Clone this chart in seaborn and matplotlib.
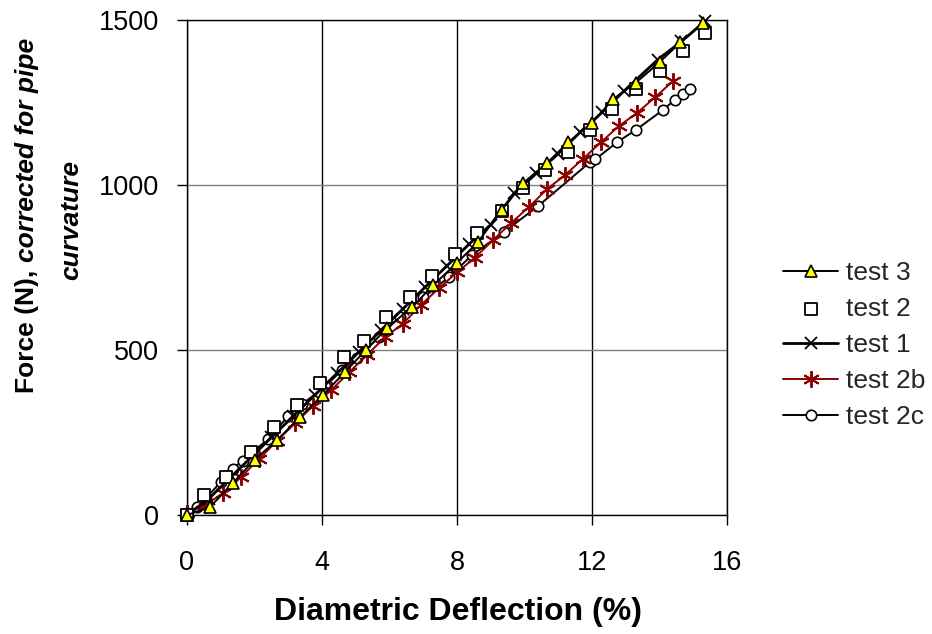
import matplotlib
matplotlib.use("Agg")
import matplotlib.pyplot as plt
import seaborn as sns

# ---------------- data ----------------
x_test3 = [0, 0.68, 1.36, 2.0, 2.67, 3.35, 4.03, 4.67, 5.3, 5.93, 6.67, 7.3,
           8.0, 8.62, 9.33, 9.96, 10.67, 11.3, 12.0, 12.62, 13.3, 14.0, 14.62, 15.3]
f_test3 = [0, 24, 97, 167, 227, 297, 364, 432, 500, 567, 630, 697,
           764, 827, 925, 1006, 1067, 1130, 1188, 1260, 1310, 1372, 1432, 1490]

x_test2 = [0, 0.5, 1.15, 1.9, 2.57, 3.26, 3.94, 4.65, 5.25, 5.9, 6.6, 7.25,
           7.94, 8.6, 9.33, 9.95, 10.6, 11.3, 11.95, 12.6, 13.3, 14.0, 14.7, 15.35]
f_test2 = [0, 60, 115, 190, 266, 333, 400, 478, 528, 600, 660, 725,
           792, 855, 922, 990, 1045, 1100, 1167, 1230, 1290, 1345, 1405, 1460]

x_test1 = [0, 0.65, 1.3, 1.9, 2.5, 3.15, 3.8, 4.45, 5.1, 5.75, 6.4, 7.05,
           7.7, 8.35, 9.0, 9.7, 10.35, 11.0, 11.65, 12.3, 12.95, 13.95, 14.65, 15.35]
f_test1 = [0, 50, 115, 175, 235, 300, 365, 430, 495, 560, 625, 690,
           755, 820, 880, 975, 1035, 1095, 1160, 1220, 1285, 1380, 1435, 1497]

x_test2b = [0, 0.53, 1.07, 1.6, 2.13, 2.67, 3.2, 3.73, 4.27, 4.8, 5.33, 5.87,
            6.4, 6.93, 7.47, 8.0, 8.53, 9.07, 9.6, 10.13, 10.67, 11.2, 11.73,
            12.27, 12.8, 13.33, 13.87, 14.4]
f_test2b = [5, 30, 66, 115, 169, 225, 278, 330, 378, 432, 485, 539,
            580, 636, 688, 735, 780, 833, 885, 933, 988, 1030, 1079,
            1130, 1179, 1218, 1266, 1315]

x_test2c = [0, 0.3, 0.55, 1.0, 1.35, 1.65, 2.4, 3.0, 3.4, 4.1, 4.6, 5.05, 5.7,
            6.3, 7.0, 7.75, 8.45, 9.4, 10.4, 11.95, 12.1, 12.75, 13.3, 14.1,
            14.45, 14.7, 14.9]
f_test2c = [6, 24, 50, 100, 140, 165, 230, 300, 335, 390, 440, 476, 540,
            600, 660, 720, 788, 858, 936, 1070, 1078, 1130, 1167, 1227,
            1258, 1275, 1290]

x_ticks = [0, 4, 8, 12, 16]
y_ticks = [0, 500, 1000, 1500]
legend_order = ["test 3", "test 2", "test 1", "test 2b", "test 2c"]

# ---------------- figure ----------------
sns.set_theme(style="white")
plt.rcParams["font.family"] = ["Liberation Sans", "DejaVu Sans"]

W, H = 932, 634
fig = plt.figure(figsize=(W / 100, H / 100), dpi=100)
ax = fig.add_axes([187 / W, 1 - 515 / H, 540 / W, 495 / H])

DARKRED = "#8B0000"
lw = 1.4

sns.lineplot(x=x_test2c, y=f_test2c, ax=ax, sort=False, estimator=None,
             color="black", lw=lw, marker="o", markersize=7.5,
             markerfacecolor="white", markeredgecolor="black",
             markeredgewidth=1.2, label="test 2c", clip_on=False, zorder=3)
sns.lineplot(x=x_test2b, y=f_test2b, ax=ax, sort=False, estimator=None,
             color=DARKRED, lw=lw, marker=(6, 2, 0), markersize=12,
             markeredgecolor=DARKRED, markeredgewidth=1.4,
             label="test 2b", clip_on=False, zorder=4)
sns.lineplot(x=x_test1, y=f_test1, ax=ax, sort=False, estimator=None,
             color="black", lw=2.0, marker="x", markersize=8.5,
             markeredgecolor="black", markeredgewidth=1.3,
             label="test 1", clip_on=False, zorder=5)
sns.scatterplot(x=x_test2, y=f_test2, ax=ax, marker="s", s=70,
                facecolor="white", edgecolor="black", linewidth=1.3,
                label="test 2", clip_on=False, zorder=6)
sns.lineplot(x=x_test3, y=f_test3, ax=ax, sort=False, estimator=None,
             color="black", lw=lw, marker="^", markersize=8,
             markerfacecolor="#FFFF00", markeredgecolor="black",
             markeredgewidth=1.2, label="test 3", clip_on=False, zorder=7)

ax.set_xlim(0, 16)
ax.set_ylim(0, 1500)
ax.set_xticks(x_ticks)
ax.set_yticks(y_ticks)
ax.set_xticklabels([str(v) for v in x_ticks])
ax.set_yticklabels([str(v) for v in y_ticks])
ax.set_xlabel("")
ax.set_ylabel("")

ax.xaxis.grid(True, color="black", lw=1.0)
ax.yaxis.grid(True, color="#808080", lw=1.0)
ax.set_axisbelow(True)
for s in ax.spines.values():
    s.set_visible(True)
    s.set_color("black")
    s.set_linewidth(1.0)

ax.tick_params(axis="both", which="major", bottom=True, left=True,
               direction="out", length=7, width=1, color="black",
               labelsize=19.5, labelcolor="black")
ax.tick_params(axis="x", pad=18)
ax.tick_params(axis="y", pad=13)

# x label
fig.text(458 / W, 1 - 612 / H, "Diametric Deflection (%)", ha="center",
         va="center", fontsize=23, fontweight="bold", color="black")

# y label: bold + bold-italic pieces
fig.canvas.draw()
r = fig.canvas.get_renderer()
t1 = fig.text(34 / W, 1 - 393 / H, "Force (N),", rotation=90,
              rotation_mode="anchor", ha="left", va="baseline",
              fontsize=19, fontweight="bold", color="black")
bb = t1.get_window_extent(r)
gap = 0.278 * 19 * 100 / 72
t2 = fig.text(34 / W, (bb.y1 + gap) / H, "corrected for pipe", rotation=90,
              rotation_mode="anchor", ha="left", va="baseline",
              fontsize=19, fontweight="bold", fontstyle="italic", color="black")
fig.text(78 / W, 1 - 220 / H, "curvature", rotation=90,
         rotation_mode="anchor", ha="center", va="baseline",
         fontsize=19, fontweight="bold", fontstyle="italic", color="black")

# legend
handles, labels = ax.get_legend_handles_labels()
hmap = dict(zip(labels, handles))
if ax.get_legend() is not None:
    ax.get_legend().remove()
fig.legend([hmap[l] for l in legend_order], legend_order,
           loc="center left", bbox_to_anchor=(783 / W, 1 - 345 / H),
           bbox_transform=fig.transFigure, frameon=False, fontsize=19,
           handlelength=2.1, handletextpad=0.3, labelspacing=0.45,
           borderpad=0, borderaxespad=0)

fig.savefig("out.png", dpi=100)
